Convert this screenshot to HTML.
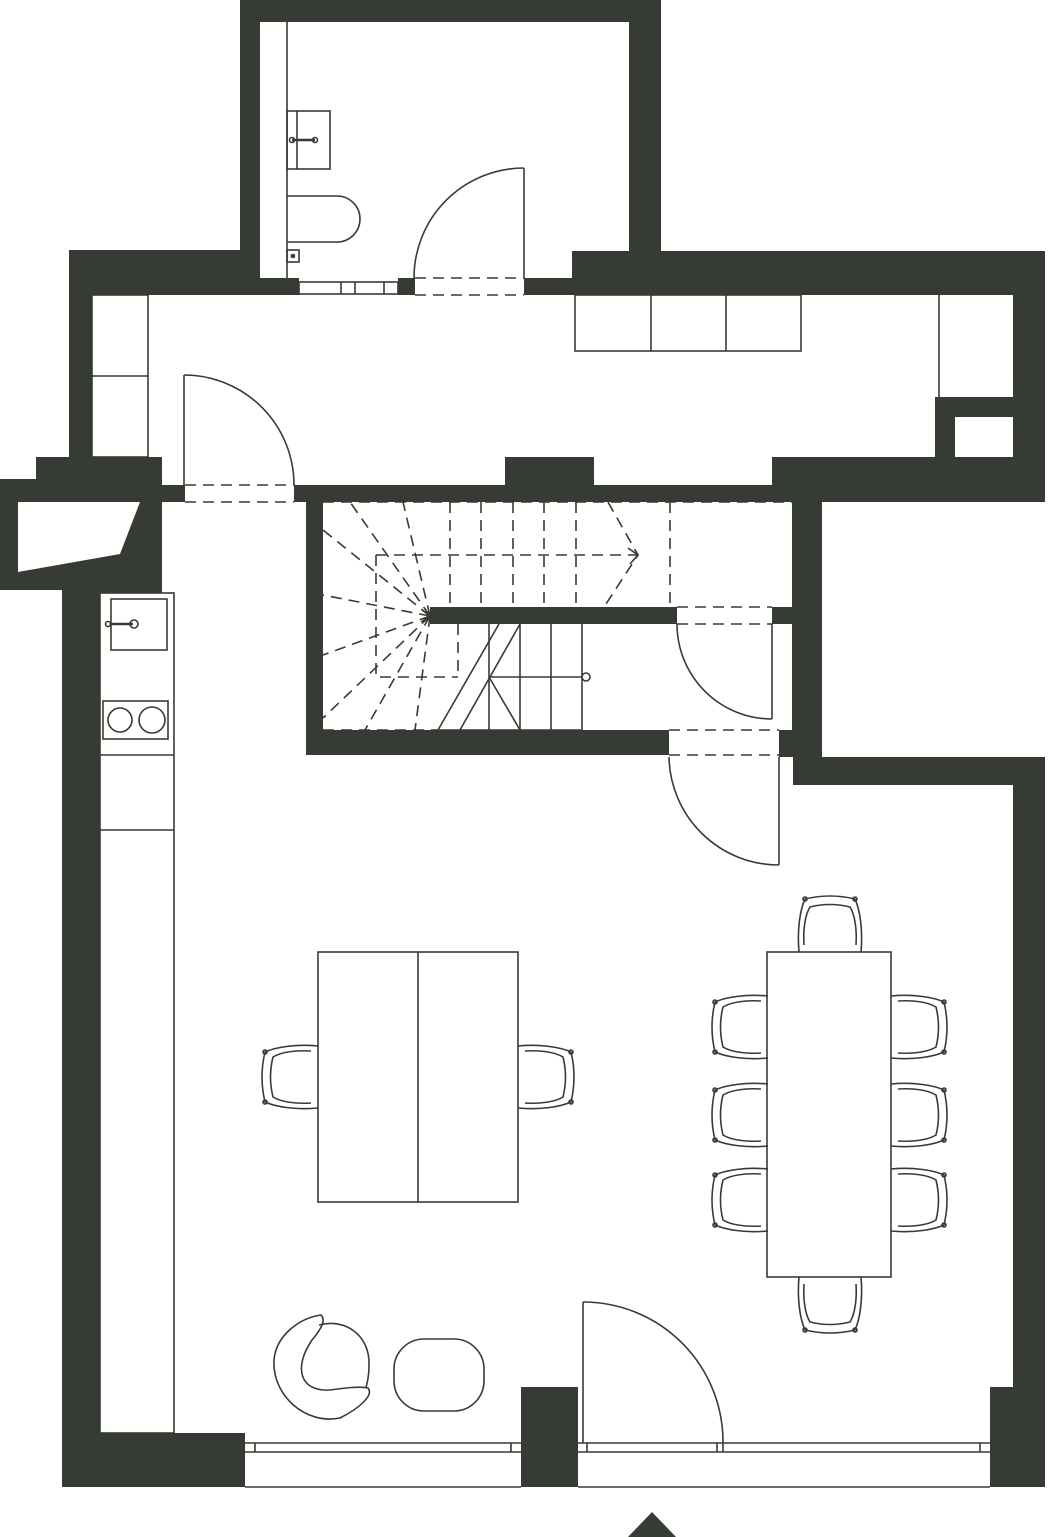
<!DOCTYPE html>
<html><head><meta charset="utf-8"><style>html,body{margin:0;padding:0;background:#fff}svg{display:block}</style></head>
<body>
<svg width="1048" height="1537" viewBox="0 0 1048 1537" xmlns="http://www.w3.org/2000/svg">
<defs>
<g id="ch" fill="none" stroke="#363c34" stroke-width="1.6">
<path d="M2,57 C0,35 3,15 8,4 Q33,-2 58,4 C63,15 66,35 64,57"/>
<path d="M7,50 C6,35 8,20 13,12 Q33,7 53,12 C58,20 60,35 59,50"/>
<circle cx="8" cy="4" r="2"/><circle cx="58" cy="4" r="2"/>
</g>
</defs>
<g fill="#363c34">
<!-- WC walls -->
<rect x="240" y="0" width="421" height="22"/>
<rect x="240" y="0" width="20" height="295"/>
<rect x="629" y="0" width="32" height="280"/>
<rect x="260" y="278" width="39" height="17"/>
<rect x="398" y="278" width="17" height="17"/>
<rect x="524" y="278" width="48" height="17"/>
<!-- upper corridor -->
<rect x="69" y="250" width="191" height="45"/>
<rect x="69" y="250" width="23" height="230"/>
<rect x="572" y="251" width="473" height="44"/>
<rect x="1013" y="251" width="32" height="251"/>
<path d="M935,397 H1013 V417 H955 V457 H935 Z"/>
<rect x="772" y="457" width="273" height="45"/>
<rect x="505" y="457" width="89" height="45"/>
<rect x="294" y="485" width="498" height="17"/>
<rect x="162" y="485" width="23" height="17"/>
<!-- left niche -->
<path fill-rule="evenodd" d="M36,457 H162 V593 H100 V1487 H62 V590 H0 V479 H36 Z M18,502 L140,502 L120,554 L18,572 Z"/>
<!-- stairs walls -->
<rect x="306" y="485" width="17" height="270"/>
<rect x="306" y="730" width="363" height="25"/>
<rect x="430" y="607" width="247" height="17"/>
<rect x="772" y="607" width="20" height="17"/>
<rect x="792" y="485" width="30" height="272"/>
<rect x="779" y="730" width="14" height="27"/>
<rect x="793" y="757" width="252" height="28"/>
<rect x="1013" y="757" width="32" height="730"/>
<!-- bottom -->
<rect x="62" y="1433" width="183" height="54"/>
<rect x="521" y="1387" width="57" height="100"/>
<rect x="990" y="1387" width="55" height="100"/>
<polygon points="628,1537 652,1512 676,1537"/>
</g>
<g fill="none" stroke="#363c34" stroke-width="1.6">
<!-- WC fixtures -->
<line x1="287" y1="22" x2="287" y2="278"/>
<rect x="287" y="111" width="43" height="58"/>
<line x1="297" y1="111" x2="297" y2="169"/>
<line x1="292" y1="140" x2="315" y2="140" stroke-width="2.5"/>
<circle cx="292" cy="140" r="2.5"/><circle cx="315" cy="140" r="2.5"/>
<path d="M287,196 H337 A23,23 0 0 1 337,242 H287"/>
<rect x="287" y="250" width="12" height="12"/>
<circle cx="293" cy="256" r="1.5" fill="#363c34"/>
<rect x="299" y="282" width="99" height="12"/>
<line x1="341" y1="282" x2="341" y2="294"/><line x1="355" y1="282" x2="355" y2="294"/><line x1="384" y1="282" x2="384" y2="294"/>
<!-- WC door -->
<line x1="524" y1="168" x2="524" y2="278"/>
<path d="M524,168 A110,110 0 0 0 414,278"/>
<!-- cabinets -->
<rect x="92" y="295" width="56" height="162"/>
<line x1="92" y1="376" x2="148" y2="376"/>
<rect x="575" y="295" width="226" height="56"/>
<line x1="651" y1="295" x2="651" y2="351"/><line x1="726" y1="295" x2="726" y2="351"/>
<line x1="939" y1="295" x2="939" y2="397"/>
<!-- corridor door -->
<line x1="184" y1="375" x2="184" y2="485"/>
<path d="M184,375 A110,110 0 0 1 294,485"/>
<!-- kitchen -->
<rect x="100" y="593" width="74" height="840"/>
<line x1="100" y1="755" x2="174" y2="755"/><line x1="100" y1="830" x2="174" y2="830"/>
<rect x="111" y="599" width="56" height="51"/>
<line x1="110" y1="624" x2="133" y2="624" stroke-width="2.5"/>
<circle cx="134" cy="624" r="4"/><circle cx="108" cy="624" r="2.5"/>
<rect x="103" y="701" width="65" height="38"/>
<circle cx="120" cy="720" r="12"/><circle cx="152" cy="720" r="13"/>
<!-- stair door -->
<line x1="772" y1="624" x2="772" y2="719"/>
<path d="M677,624 A95,95 0 0 0 772,719"/>
<!-- lower door -->
<line x1="779" y1="757" x2="779" y2="865"/>
<path d="M669,757 A110,110 0 0 0 779,865"/>
<!-- entrance door -->
<line x1="583" y1="1302" x2="583" y2="1443"/>
<path d="M583,1302 A140,140 0 0 1 723,1443"/>
<!-- solid stairs -->
<line x1="438" y1="730" x2="499" y2="624"/>
<line x1="460" y1="730" x2="520" y2="624"/>
<line x1="489" y1="624" x2="489" y2="730"/><line x1="520" y1="624" x2="520" y2="730"/>
<line x1="551" y1="624" x2="551" y2="730"/><line x1="582" y1="624" x2="582" y2="730"/>
<line x1="489" y1="677" x2="582" y2="677"/><line x1="489" y1="677" x2="520" y2="730"/>
<line x1="438" y1="730" x2="582" y2="730"/>
<circle cx="586" cy="677" r="4"/>
<!-- windows -->
<path d="M245,1443 H521 M245,1452 H521 M578,1443 H990 M578,1452 H990 M245,1487 H521 M578,1487 H990"/>
<path d="M255,1443 V1452 M511,1443 V1452 M587,1443 V1452 M717,1443 V1452 M723,1443 V1452 M980,1443 V1452"/>
<!-- tables -->
<rect x="318" y="952" width="200" height="250"/>
<line x1="418" y1="952" x2="418" y2="1202"/>
<rect x="767" y="952" width="124" height="325"/>
<!-- lounge -->
<path d="M321,1315 C326,1320 322,1328 312,1340 C293,1368 300,1392 330,1390 C345,1388 360,1386 368,1388 C374,1395 360,1408 340,1418 C305,1425 272,1395 274,1360 C276,1335 300,1318 321,1315 Z"/>
<path d="M319,1325 C345,1318 370,1335 369,1365 C369,1380 366,1386 366,1388"/>
<rect x="394" y="1339" width="90" height="72" rx="30"/>
</g>
<!-- dashed lines -->
<g fill="none" stroke="#363c34" stroke-width="1.6" stroke-dasharray="11,7">
<path d="M415,278 H524 M415,295 H524"/>
<path d="M185,485 H294 M185,502 H294"/>
<path d="M677,607 H772 M677,624 H772"/>
<path d="M669,730 H779 M669,755 H779"/>
<path d="M323,502 H792"/>
<path d="M450,502 V607 M481,502 V607 M513,502 V607 M544,502 V607 M576,502 V607 M670,502 V607"/>
<path d="M376,555 H638 M376,555 V677 H458 M458,624 V677"/>
<path d="M608,502 L638,555 L604,607"/>
<path d="M430,616 L350,502 M430,616 L403,502 M430,616 L323,530 M430,616 L323,595 M430,616 L323,655 M430,616 L323,718 M430,616 L365,730 M430,616 L415,730"/>
<path d="M323,730 H438"/>
</g>
<path d="M628,548 L638,555 L630,564 M422,610 L430,616 L421,622" fill="none" stroke="#363c34" stroke-width="1.6"/>
<!-- chairs -->
<use href="#ch" transform="translate(797,895)"/>
<use href="#ch" transform="translate(863,1334) rotate(180)"/>
<use href="#ch" transform="translate(711,1060) rotate(-90)"/>
<use href="#ch" transform="translate(711,1148) rotate(-90)"/>
<use href="#ch" transform="translate(711,1233) rotate(-90)"/>
<use href="#ch" transform="translate(948,994) rotate(90)"/>
<use href="#ch" transform="translate(948,1082) rotate(90)"/>
<use href="#ch" transform="translate(948,1167) rotate(90)"/>
<use href="#ch" transform="translate(261,1110) rotate(-90)"/>
<use href="#ch" transform="translate(575,1044) rotate(90)"/>
</svg>
</body></html>
